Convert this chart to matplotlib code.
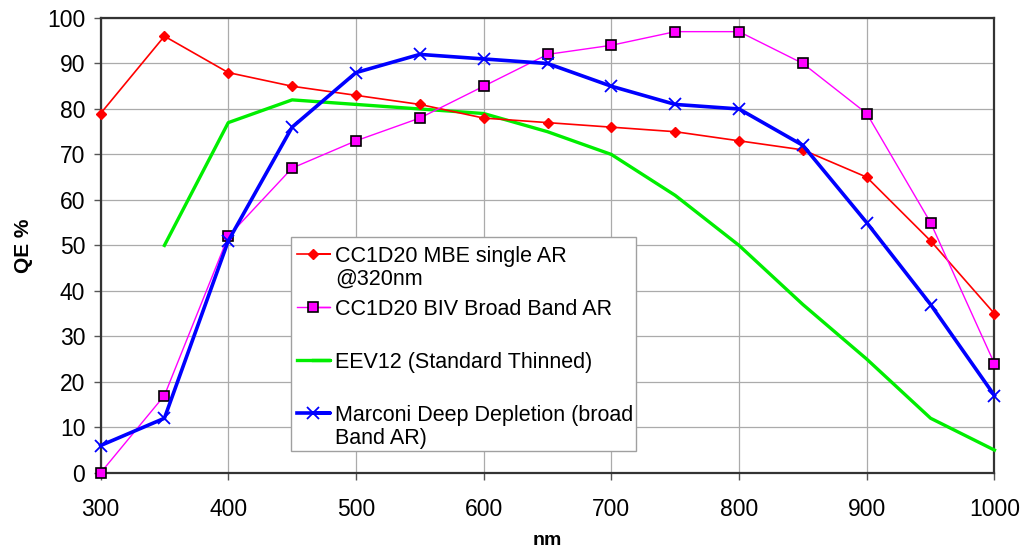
import matplotlib
matplotlib.use("Agg")
import matplotlib.pyplot as plt
from matplotlib.lines import Line2D
from matplotlib.patches import Rectangle

plt.rcParams['font.family'] = ['Liberation Sans', 'DejaVu Sans']

# --- DATA ---
wavelength = [300, 350, 400, 450, 500, 550, 600, 650, 700, 750, 800, 850, 900, 950, 1000]
mbe_single_ar = [79, 96, 88, 85, 83, 81, 78, 77, 76, 75, 73, 71, 65, 51, 35]
biv_broad_ar = [0, 17, 52, 67, 73, 78, 85, 92, 94, 97, 97, 90, 79, 55, 24]
eev12_wl = [350, 400, 450, 500, 550, 600, 650, 700, 750, 800, 850, 900, 950, 1000]
eev12 = [50, 77, 82, 81, 80, 79, 75, 70, 61, 50, 37, 25, 12, 5]
marconi_dd = [6, 12, 51, 76, 88, 92, 91, 90, 85, 81, 80, 72, 55, 37, 17]

labels = ["CC1D20 MBE single AR\n@320nm",
          "CC1D20 BIV Broad Band AR",
          "EEV12 (Standard Thinned)",
          "Marconi Deep Depletion (broad\nBand AR)"]

x_ticks = list(range(300, 1001, 100))
y_ticks = list(range(0, 101, 10))

# --- STYLES ---
styles = [
    dict(color='#ff0000', lw=1.2, marker='D', ms=5.5, mfc='#ff0000', mec='#ff0000'),
    dict(color='#ff00ff', lw=1.0, marker='s', ms=7, mfc='#ff00ff', mec='black', mew=1.2),
    dict(color='#00ee00', lw=2.4, marker=None),
    dict(color='#0000ff', lw=2.6, marker='x', ms=9, mec='#0000ff', mew=1.3),
]

fig = plt.figure(figsize=(10.21, 5.54), dpi=100)
fig.patch.set_facecolor('white')
ax = fig.add_axes([0.0985, 0.1465, 0.8755, 0.821])

series = [(wavelength, mbe_single_ar), (wavelength, biv_broad_ar),
          (eev12_wl, eev12), (wavelength, marconi_dd)]
zorders = [4, 5, 3, 6]
for (xs, ys), st, z in zip(series, styles, zorders):
    ax.plot(xs, ys, zorder=z, clip_on=False, **st)

ax.set_xlim(300, 1000)
ax.set_ylim(0, 100)
ax.set_xticks(x_ticks)
ax.set_yticks(y_ticks)
ax.grid(True, color='#ababab', linewidth=0.9)
ax.set_axisbelow(True)
for sp in ax.spines.values():
    sp.set_color('#333333')
    sp.set_linewidth(1.6)
ax.tick_params(axis='both', direction='out', length=5, width=1, color='#555555',
               labelsize=16.5)
ax.tick_params(axis='x', pad=13)
ax.tick_params(axis='y', pad=6)

ax.set_ylabel("QE %", fontsize=15, fontweight='bold', labelpad=10)
ax.set_xlabel("nm", fontsize=14, fontweight='bold', labelpad=8)

# --- LEGEND (Excel style, handle at first line of each entry) ---
lx0, ly0, lx1, ly1 = 0.285, 0.186, 0.623, 0.572
fig.patches.append(Rectangle((lx0, ly0), lx1 - lx0, ly1 - ly0, transform=fig.transFigure,
                             facecolor='white', edgecolor='#a0a0a0', linewidth=1, zorder=10))
row_y = [254, 307, 360, 413]
for lab, st, ry in zip(labels, styles, row_y):
    yf = 1 - ry / 554
    h = Line2D([0.291, 0.323, 0.307], [yf, yf, yf], transform=fig.transFigure,
               color=st['color'], lw=st['lw'], zorder=11, markevery=[2],
               marker=st.get('marker'), ms=st.get('ms', 0), mfc=st.get('mfc', 'none'),
               mec=st.get('mec', st['color']), mew=st.get('mew', 1))
    fig.lines.append(h)
    fig.text(0.328, yf + 0.014, lab, fontsize=15.5, va='top', ha='left', zorder=12,
             transform=fig.transFigure, linespacing=1.12)

fig.savefig("out.png", dpi=100)
